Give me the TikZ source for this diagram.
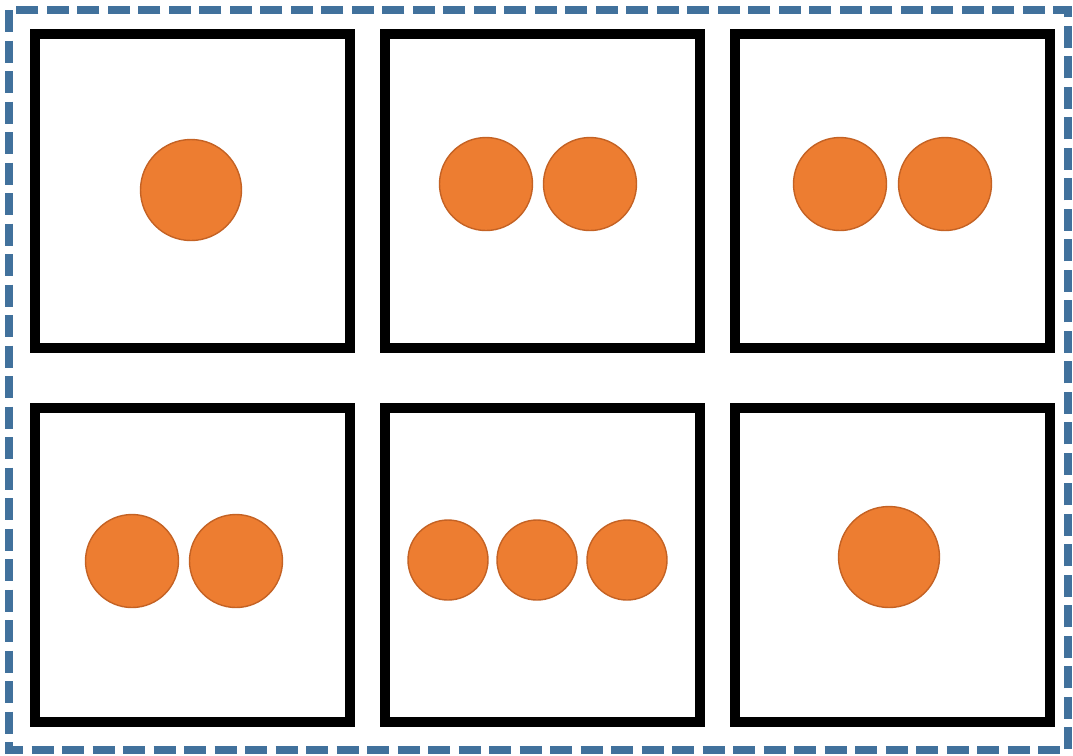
\documentclass[tikz,border=0pt]{standalone}
\usepackage{xcolor}
\definecolor{frameblue}{RGB}{65,113,156}
\definecolor{dotorange}{RGB}{237,125,49}
\definecolor{dotedge}{RGB}{196,98,36}
\usetikzlibrary{shadows}

\begin{document}
\begin{tikzpicture}[
  panel/.style={draw,line width=0.1cm,fill=white,minimum width=3.15cm,minimum height=3.14cm,inner sep=0pt,
    drop shadow={shadow xshift=0.03cm,shadow yshift=-0.03cm,opacity=0.25,fill=black}},
  dot/.style={circle,fill=dotorange,draw=dotedge,line width=0.4pt,inner sep=0pt,minimum size=0.93cm}]
  \useasboundingbox (0,0) rectangle (10.73,-7.55);
  % Outer dashed frame
  \draw[frameblue,line width=0.08cm,dash pattern=on 0.22cm off 0.085cm] (0.09,-0.10) rectangle (10.68,-7.50);
  % Top row
  \node[panel] (p1) at (1.925,-1.91) {};
  \node[panel] (p2) at (5.42,-1.91) {};
  \node[panel] (p3) at (8.92,-1.91) {};
  \node[dot,minimum size=1.01cm] (p1a) at (1.91,-1.90) {};
  \node[dot] (p2a) at (4.86,-1.84) {};
  \node[dot] (p2b) at (5.90,-1.84) {};
  \node[dot] (p3a) at (8.40,-1.84) {};
  \node[dot] (p3b) at (9.45,-1.84) {};
  % Bottom row
  \node[panel] (p4) at (1.925,-5.645) {};
  \node[panel] (p5) at (5.42,-5.645) {};
  \node[panel] (p6) at (8.92,-5.645) {};
  \node[dot] (p4a) at (1.32,-5.61) {};
  \node[dot] (p4b) at (2.36,-5.61) {};
  \node[dot,minimum size=0.80cm] (p5a) at (4.48,-5.60) {};
  \node[dot,minimum size=0.80cm] (p5b) at (5.37,-5.60) {};
  \node[dot,minimum size=0.80cm] (p5c) at (6.27,-5.60) {};
  \node[dot,minimum size=1.01cm] (p6a) at (8.89,-5.57) {};
\end{tikzpicture}
\end{document}
